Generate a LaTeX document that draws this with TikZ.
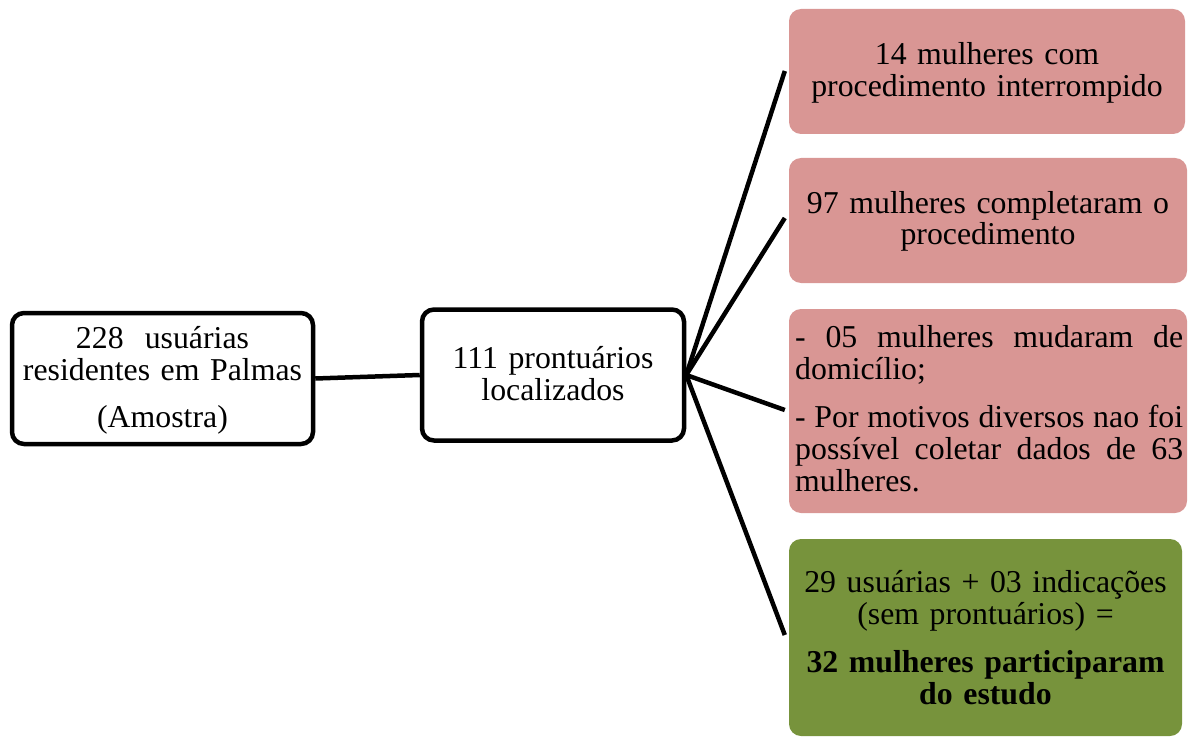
\documentclass[tikz,border=0pt]{standalone}
\usepackage{fontspec}
\setmainfont{Liberation Serif}
\definecolor{pinkfill}{RGB}{217,150,148}
\definecolor{greenfill}{RGB}{119,147,60}
\begin{document}
\begin{tikzpicture}[x=1pt,y=-1pt,
  outbox/.style={draw=black, line width=4.5pt, rounded corners=12pt, fill=white, inner sep=0pt},
  pinkbox/.style={fill=pinkfill, rounded corners=12pt, inner sep=0pt},
  greenbox/.style={fill=greenfill, rounded corners=12pt, inner sep=0pt},
  conn/.style={line width=4.5pt},
  txt/.style={font=\fontsize{31.8}{32}\selectfont, align=center, anchor=base, inner sep=0pt}
]
\useasboundingbox (0,0) rectangle (1193,738);

% boxes
\node[outbox, minimum width=301pt, minimum height=131pt] (b0) at (162.5,378.5) {};
\node[outbox, minimum width=262pt, minimum height=131pt] (b1) at (553,375) {};
\node[pinkbox, minimum width=396pt, minimum height=125pt] (p1) at (987,71.5) {};
\node[pinkbox, minimum width=398pt, minimum height=125pt] (p2) at (988,220.5) {};
\node[pinkbox, minimum width=398pt, minimum height=204pt] (p3) at (988,411) {};
\node[greenbox, minimum width=393pt, minimum height=197pt] (g) at (985.5,637.5) {};

% texts
\node[txt, text width=290pt] (t0) at (162.5,348) {228~ usuárias\\residentes em Palmas\\[15pt](Amostra)};
\node[txt, text width=250pt] (t1) at (553,368) {111 prontuários\\localizados};
\node[txt, text width=390pt] (t2) at (987,65) {14 mulheres com\\procedimento interrompido};
\node[txt, text width=390pt] (t3) at (988,213) {97 mulheres completaram o\\procedimento};
\node[txt, text width=388pt, align=justify, anchor=base west] (t4) at (795,347)
  {\parskip=16pt\parindent=0pt
   - 05 mulheres mudaram de\linebreak domicílio;\par
   - Por motivos diversos nao foi\linebreak possível coletar dados de 63\linebreak mulheres.};
\node[txt, text width=385pt] (t5) at (985.5,592) {29 usuárias + 03 indicações\\(sem prontuários) =\\[16pt]\textbf{32 mulheres participaram}\\\textbf{do estudo}};

% connectors
\draw[conn] (b0.east) -- (b1.west);
\draw[conn] (b1.east) -- ([xshift=-4pt,yshift=0.5pt]p1.west);
\draw[conn] (b1.east) -- ([xshift=-4pt,yshift=2.5pt]p2.west);
\draw[conn] (b1.east) -- ([xshift=-4pt,yshift=1pt]p3.west);
\draw[conn] (b1.east) -- ([xshift=-4pt,yshift=2.5pt]g.west);
\end{tikzpicture}
\end{document}
